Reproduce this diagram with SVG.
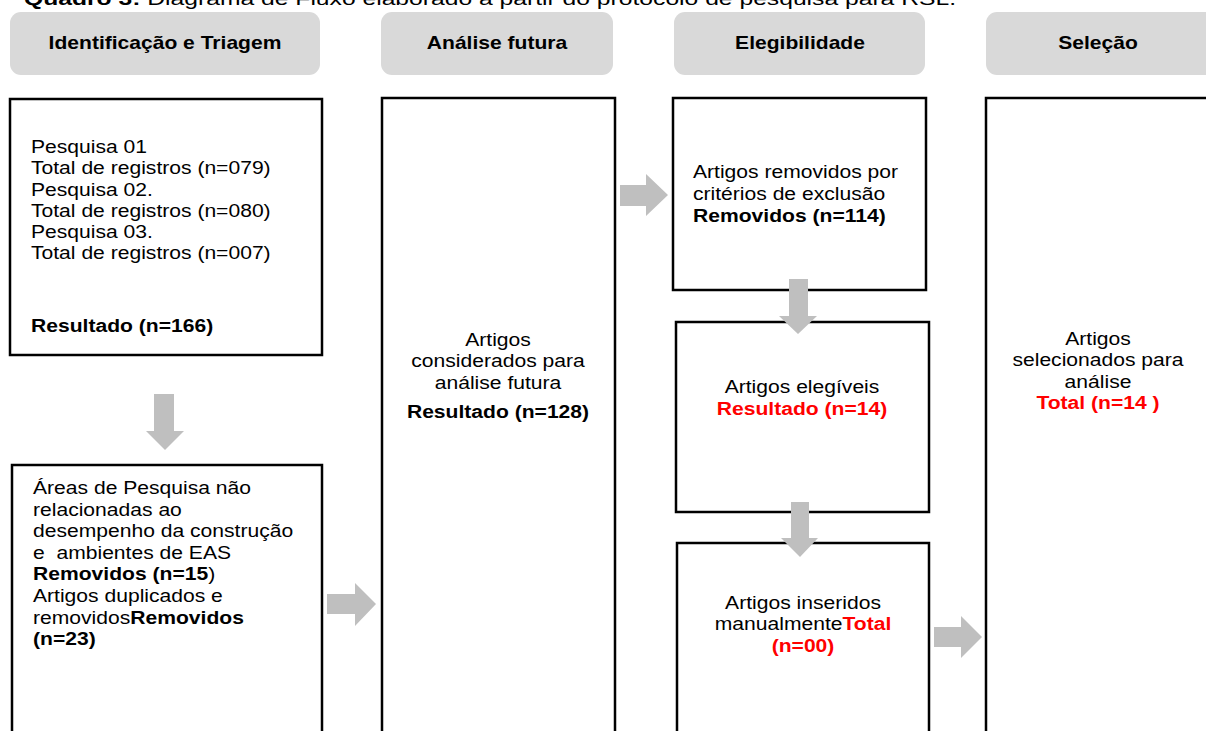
<svg xmlns="http://www.w3.org/2000/svg" width="1206" height="731" viewBox="0 0 1206 731">
<style>
text{font-family:"Liberation Sans",Arial,sans-serif;fill:#000}
.cap{font-size:18px}
.hdr{font-size:18px;font-weight:bold;text-anchor:middle}
.t{font-size:18.5px}
.c{text-anchor:middle}
.b{font-weight:bold}
.r{fill:#ff0000;font-weight:bold}
.hbox{fill:#d9d9d9}
.box{fill:#fff;stroke:#000;stroke-width:2.5}
.arr{fill:#bfbfbf}
</style>
<rect width="1206" height="731" fill="#fff"/>
<text class="cap" x="24" y="5" textLength="932" lengthAdjust="spacingAndGlyphs"><tspan font-weight="bold">Quadro 3:</tspan> Diagrama de Fluxo elaborado a partir do protocolo de pesquisa para RSL.</text>

<g id="header-identificacao"><rect class="hbox" x="10" y="12" width="310" height="63" rx="11"/><text class="hdr" transform="translate(165,49) scale(1.17,1)">Identificação e Triagem</text></g>
<g id="header-analise"><rect class="hbox" x="381" y="12" width="232" height="63" rx="11"/><text class="hdr" transform="translate(497,49) scale(1.17,1)">Análise futura</text></g>
<g id="header-elegibilidade"><rect class="hbox" x="674" y="12" width="251" height="63" rx="11"/><text class="hdr" transform="translate(800,49) scale(1.17,1)">Elegibilidade</text></g>
<g id="header-selecao"><rect class="hbox" x="986" y="12" width="240" height="63" rx="11"/><text class="hdr" transform="translate(1098,49) scale(1.17,1)">Seleção</text></g>

<g id="box-pesquisas"><rect class="box" x="10" y="99" width="312" height="256"/>
<text class="t" transform="translate(31,153) scale(1.14,1)"><tspan x="0">Pesquisa 01</tspan><tspan x="0" dy="21.3">Total de registros (n=079)</tspan><tspan x="0" dy="21.3">Pesquisa 02.</tspan><tspan x="0" dy="21.3">Total de registros (n=080)</tspan><tspan x="0" dy="21.3">Pesquisa 03.</tspan><tspan x="0" dy="21.3">Total de registros (n=007)</tspan><tspan x="0" dy="73" class="b">Resultado (n=166)</tspan></text></g>

<g id="box-removidos-areas"><rect class="box" x="12" y="465" width="310" height="300"/>
<text class="t" transform="translate(33,494) scale(1.14,1)"><tspan x="0">Áreas de Pesquisa não</tspan><tspan x="0" dy="21.6">relacionadas ao</tspan><tspan x="0" dy="21.6">desempenho da construção</tspan><tspan x="0" dy="21.6" xml:space="preserve">e  ambientes de EAS</tspan><tspan x="0" dy="21.6"><tspan class="b">Removidos (n=15</tspan>)</tspan><tspan x="0" dy="21.6">Artigos duplicados e</tspan><tspan x="0" dy="21.6">removidos<tspan class="b">Removidos</tspan></tspan><tspan x="0" dy="21.6" class="b">(n=23)</tspan></text></g>

<g id="box-analise-futura"><rect class="box" x="382" y="98" width="233" height="700"/>
<text class="t c" transform="translate(498,346) scale(1.14,1)"><tspan x="0">Artigos</tspan><tspan x="0" dy="21.5">considerados para</tspan><tspan x="0" dy="21.5">análise futura</tspan><tspan x="0" dy="29" class="b">Resultado (n=128)</tspan></text></g>

<g id="box-exclusao"><rect class="box" x="673" y="98" width="253" height="192"/>
<text class="t" transform="translate(693,178) scale(1.14,1)"><tspan x="0">Artigos removidos por</tspan><tspan x="0" dy="21.8">critérios de exclusão</tspan><tspan x="0" dy="21.8" class="b">Removidos (n=114)</tspan></text></g>

<g id="box-elegiveis"><rect class="box" x="676" y="322" width="253" height="190"/>
<text class="t c" transform="translate(802,393) scale(1.14,1)"><tspan x="0">Artigos elegíveis</tspan><tspan x="0" dy="22" class="r">Resultado (n=14)</tspan></text></g>

<g id="box-inseridos"><rect class="box" x="677" y="543" width="252" height="250"/>
<text class="t c" transform="translate(803,609) scale(1.14,1)"><tspan x="0">Artigos inseridos</tspan><tspan x="0" dy="21.5">manualmente<tspan class="r">Total</tspan></tspan><tspan x="0" dy="21.5" class="r">(n=00)</tspan></text></g>

<g id="box-selecao"><rect class="box" x="986" y="98" width="240" height="700"/>
<text class="t c" transform="translate(1098,345) scale(1.14,1)"><tspan x="0">Artigos</tspan><tspan x="0" dy="21.5">selecionados para</tspan><tspan x="0" dy="21.5">análise</tspan><tspan x="0" dy="21.5" class="r" xml:space="preserve">Total (n=14 )</tspan></text></g>

<g id="connectors">
<polygon class="arr" points="154,394 174,394 174,431 184,431 165,450 146,431 154,431"/>
<polygon class="arr" points="327,594 355,594 355,583 376,604 355,626 355,614 327,614"/>
<polygon class="arr" points="620,185 646,185 646,174 668,195 646,216 646,206 620,206"/>
<polygon class="arr" points="789,279 808,279 808,316 817,316 798,334 779,316 789,316"/>
<polygon class="arr" points="791,502 809,502 809,538 818,538 800,557 781,538 791,538"/>
<polygon class="arr" points="934,627 961,627 961,616 982,637 961,658 961,647 934,647"/>
</g>
</svg>
